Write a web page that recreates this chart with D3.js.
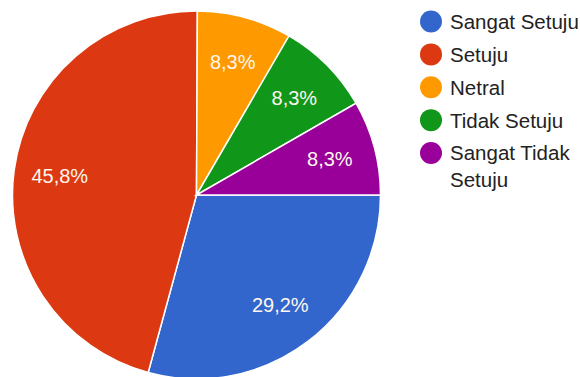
<!DOCTYPE html>
<html>
<head>
<meta charset="utf-8">
<script src="https://cdn.jsdelivr.net/npm/d3@7"></script>
<style>
  html, body { margin: 0; padding: 0; background: #fff; }
  svg { display: block; font-family: "Liberation Sans", Arial, sans-serif; }
</style>
</head>
<body>
<div id="chart"></div>
<script>
// answers, in legend order
var categories = ["Sangat Setuju", "Setuju", "Netral", "Tidak Setuju", "Sangat Tidak Setuju"];
var values = [29.2, 45.8, 8.3, 8.3, 8.3];
var labels = ["29,2%", "45,8%", "8,3%", "8,3%", "8,3%"];
var legendLines = [["Sangat Setuju"], ["Setuju"], ["Netral"], ["Tidak Setuju"], ["Sangat Tidak", "Setuju"]];
var colors = ["#3366cc", "#dc3912", "#ff9900", "#109618", "#990099"];

(function() {
	var width = 580,
		height = 377,
		radius = 184,
		cx = 196.5,
		cy = 195;

	var svg = d3
		.select("#chart")
		.append("svg")
		.attr("width", width)
		.attr("height", height);

	var color = d3.scaleOrdinal().domain(categories).range(colors);

	var data = categories.map(function(c, i) {
		return { name: c, value: values[i], label: labels[i] };
	});

	// first slice starts at 3 o'clock, going clockwise
	var pie = d3
		.pie()
		.sort(null)
		.value(function(d) { return d.value; })
		.startAngle(Math.PI / 2)
		.endAngle(Math.PI / 2 + 2 * Math.PI);

	var arc = d3.arc().innerRadius(0).outerRadius(radius);
	var labelArc = d3.arc().innerRadius(radius * 0.75).outerRadius(radius * 0.75);

	var g = svg.append("g").attr("transform", "translate(" + cx + "," + cy + ")");

	var arcs = pie(data);

	g
		.selectAll("path")
		.data(arcs)
		.enter()
		.append("path")
		.attr("d", arc)
		.attr("fill", function(d) { return color(d.data.name); })
		.attr("stroke", "#fff")
		.attr("stroke-width", 1.5);

	g
		.selectAll("text")
		.data(arcs)
		.enter()
		.append("text")
		.attr("transform", function(d) { return "translate(" + labelArc.centroid(d) + ")"; })
		.attr("text-anchor", "middle")
		.attr("dy", "0.35em")
		.attr("fill", "#fdf6ee")
		.style("font-size", "20px")
		.text(function(d) { return d.data.label; });

	var legend = svg.append("g").attr("transform", "translate(431,21.5)");

	var rowY = d3.scalePoint().domain(categories).range([0, 131.5]);

	var item = legend
		.selectAll("g")
		.data(data)
		.enter()
		.append("g")
		.attr("transform", function(d) { return "translate(0," + rowY(d.name) + ")"; });

	item
		.append("circle")
		.attr("r", 11)
		.attr("fill", function(d) { return color(d.name); });

	item
		.append("text")
		.attr("fill", "#222")
		.style("font-size", "20.5px")
		.selectAll("tspan")
		.data(function(d, i) { return legendLines[i]; })
		.enter()
		.append("tspan")
		.attr("x", 19)
		.attr("dy", function(d, i) { return i === 0 ? "0.36em" : "1.3em"; })
		.text(function(d) { return d; });
})();
</script>
</body>
</html>
